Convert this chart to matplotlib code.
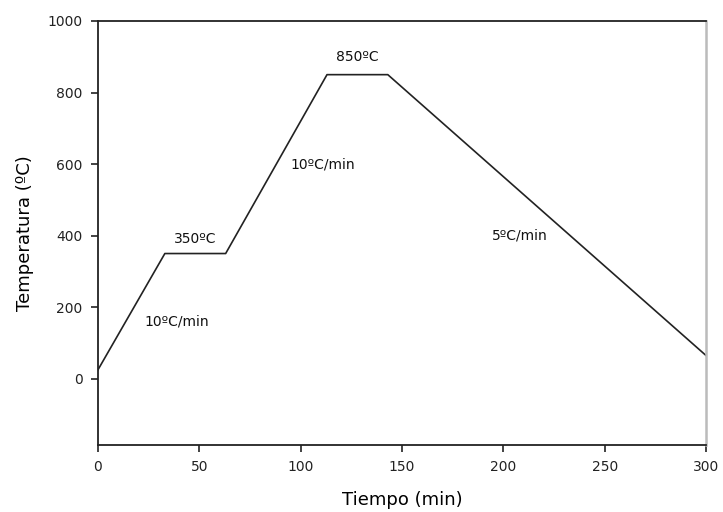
import matplotlib.pyplot as plt

plt.rcParams['font.family'] = ['DejaVu Sans']

# thermal cycle: time (min) vs furnace temperature (ºC)
tiempo = [0, 33, 63, 113, 143, 300]
temperatura = [25, 350, 350, 850, 850, 65]

etiquetas = ["350ºC", "10ºC/min", "850ºC", "10ºC/min", "5ºC/min"]
etiq_x = [48, 39, 128, 111, 208]
etiq_y = [392, 160, 898, 600, 400]

fig = plt.figure(figsize=(7.23, 5.12), dpi=100)
ax = fig.add_axes([0.1355, 0.131, 0.8410, 0.828])

ax.plot(tiempo, temperatura, color="#222222", lw=1.2)

for s, x, y in zip(etiquetas, etiq_x, etiq_y):
    ax.text(x, y, s, ha="center", va="center", fontsize=10, color="#111111")

ax.set_xlim(0, 300)
ax.set_ylim(-185, 1000)
ax.set_xticks([0, 50, 100, 150, 200, 250, 300])
ax.set_yticks([0, 200, 400, 600, 800, 1000])
ax.tick_params(axis="both", direction="out", length=5, width=1.2,
               labelsize=10, colors="#222222", pad=6)
ax.tick_params(axis="x", top=False)
ax.tick_params(axis="y", right=False)

for side in ["left", "bottom", "top"]:
    ax.spines[side].set_linewidth(1.3)
    ax.spines[side].set_color("#222222")
ax.spines["right"].set_linewidth(1.8)
ax.spines["right"].set_color("#bbbbbb")

ax.set_xlabel("Tiempo (min)", fontsize=13, labelpad=12)
ax.set_ylabel("Temperatura (ºC)", fontsize=13, labelpad=10)

fig.savefig("out.png", dpi=100)
